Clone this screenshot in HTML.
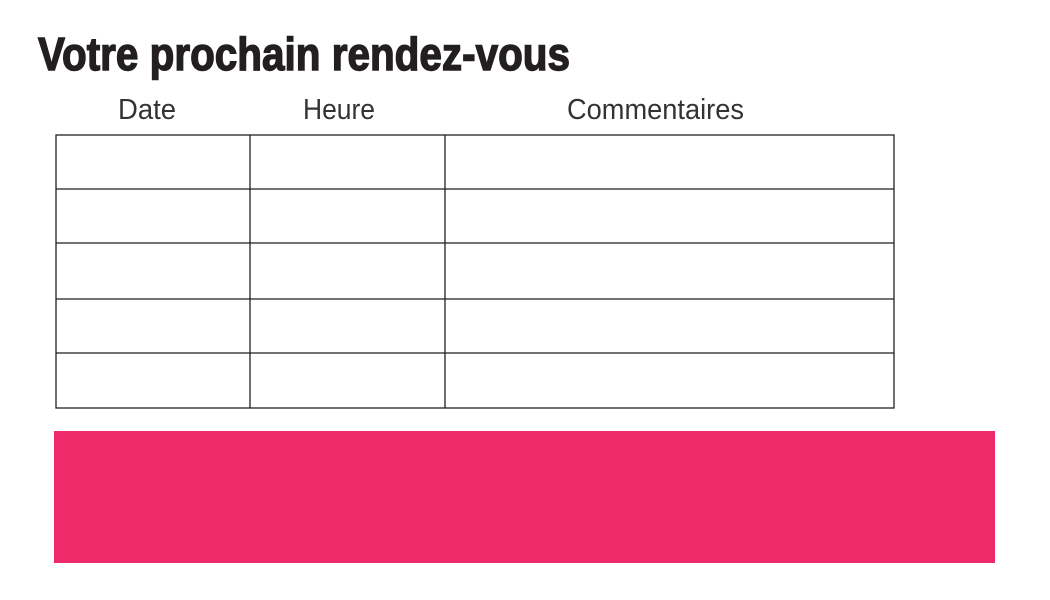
<!DOCTYPE html>
<html><head><meta charset="utf-8"><style>
html,body{margin:0;padding:0;background:#fff;}
svg{display:block;}
</style></head><body>
<svg width="1050" height="600" viewBox="0 0 1050 600" xmlns="http://www.w3.org/2000/svg">
<rect width="1050" height="600" fill="#fff"/>
<text x="38" y="70" font-family="Liberation Sans, sans-serif" font-weight="bold" font-size="46" fill="#231f20" stroke="#231f20" stroke-width="1.4" textLength="532" lengthAdjust="spacingAndGlyphs">Votre prochain rendez-vous</text>
<g font-family="Liberation Sans, sans-serif" font-size="29" fill="#333">
<text x="118" y="119" textLength="58" lengthAdjust="spacingAndGlyphs">Date</text>
<text x="303" y="119" textLength="72" lengthAdjust="spacingAndGlyphs">Heure</text>
<text x="567" y="119" textLength="177" lengthAdjust="spacingAndGlyphs">Commentaires</text>
</g>
<g stroke="#231f20" stroke-width="1.3" fill="none">
<rect x="56" y="135" width="838" height="273"/>
<line x1="56" y1="189" x2="894" y2="189"/>
<line x1="56" y1="243" x2="894" y2="243"/>
<line x1="56" y1="299" x2="894" y2="299"/>
<line x1="56" y1="353" x2="894" y2="353"/>
<line x1="250" y1="135" x2="250" y2="408"/>
<line x1="445" y1="135" x2="445" y2="408"/>
</g>
<rect x="54" y="431" width="941" height="132" fill="#ee2a6b"/>
</svg>
</body></html>
